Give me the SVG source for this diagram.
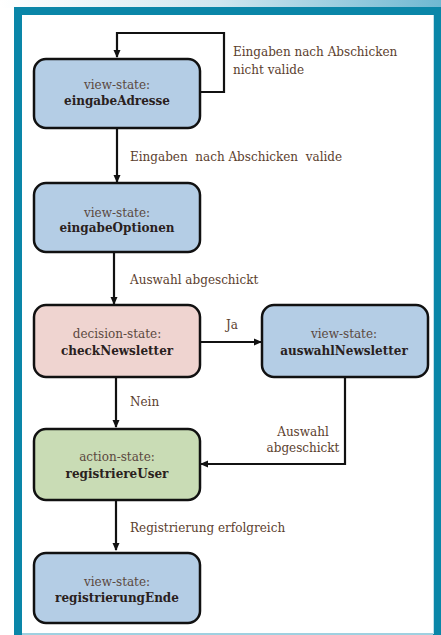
<svg xmlns="http://www.w3.org/2000/svg" width="441" height="635" viewBox="0 0 441 635">
<defs>
<linearGradient id="topg" x1="0" y1="0" x2="1" y2="0">
<stop offset="0" stop-color="#ffffff"/>
<stop offset="0.5" stop-color="#cfe6ef"/>
<stop offset="1" stop-color="#6fb8d2"/>
</linearGradient>
<marker id="ah" markerWidth="8" markerHeight="8" refX="7" refY="4" orient="auto" markerUnits="userSpaceOnUse">
<path d="M0,0.5 L8,4 L0,7.5 Z" fill="#111"/>
</marker>
<style>
.box{stroke:#111;stroke-width:2.5}
.view{fill:#b4cde5}
.dec{fill:#efd4d0}
.act{fill:#c9dcb5}
.t1{font-family:"DejaVu Serif","Liberation Serif",serif;font-size:12px;fill:#5a4840;text-anchor:middle}
.t2{font-family:"DejaVu Serif","Liberation Serif",serif;font-size:12px;font-weight:bold;fill:#2a211d;text-anchor:middle}
.lbl{font-family:"DejaVu Serif","Liberation Serif",serif;font-size:12px;fill:#5b3e2e}
.conn{fill:none;stroke:#111;stroke-width:2.2}
</style>
</defs>
<rect x="0" y="0" width="441" height="635" fill="#ffffff"/>
<rect x="0" y="0" width="441" height="8" fill="url(#topg)"/>
<rect x="14" y="7" width="427" height="628" fill="#0a86a8"/>
<rect x="22" y="15" width="411" height="619" fill="#ffffff"/>
<rect x="433" y="15" width="1" height="619" fill="#bfe0ea"/>
<rect x="22" y="633" width="411" height="2" fill="#9fd0e0"/>

<g id="connectors">
<path class="conn" d="M200,92 H224 V33 H117 V57" marker-end="url(#ah)"/>
<path class="conn" d="M117,128 V182" marker-end="url(#ah)"/>
<path class="conn" d="M114,252 V304" marker-end="url(#ah)"/>
<path class="conn" d="M200,342 H261" marker-end="url(#ah)"/>
<path class="conn" d="M116,377 V427" marker-end="url(#ah)"/>
<path class="conn" d="M345,377 V464 H201" marker-end="url(#ah)"/>
<path class="conn" d="M116,500 V550" marker-end="url(#ah)"/>
<text class="lbl" x="233" y="56">Eingaben nach Abschicken</text>
<text class="lbl" x="233" y="74">nicht valide</text>
<text class="lbl" x="130" y="161" xml:space="preserve">Eingaben  nach Abschicken  valide</text>
<text class="lbl" x="130" y="284">Auswahl abgeschickt</text>
<text class="lbl" x="226" y="329">Ja</text>
<text class="lbl" x="130" y="406">Nein</text>
<text class="lbl" x="303" y="436" text-anchor="middle">Auswahl</text>
<text class="lbl" x="303" y="452" text-anchor="middle">abgeschickt</text>
<text class="lbl" x="130" y="532">Registrierung erfolgreich</text>
</g>

<g id="eingabeAdresse">
<rect class="box view" x="34" y="59" width="166" height="69" rx="12"/>
<text class="t1" x="117" y="89">view-state:</text>
<text class="t2" x="117" y="105">eingabeAdresse</text>
</g>
<g id="eingabeOptionen">
<rect class="box view" x="34" y="183" width="166" height="69" rx="12"/>
<text class="t1" x="117" y="217">view-state:</text>
<text class="t2" x="117" y="232">eingabeOptionen</text>
</g>
<g id="checkNewsletter">
<rect class="box dec" x="34" y="305" width="166" height="72" rx="12"/>
<text class="t1" x="117" y="338">decision-state:</text>
<text class="t2" x="117" y="355">checkNewsletter</text>
</g>
<g id="auswahlNewsletter">
<rect class="box view" x="262" y="305" width="166" height="72" rx="12"/>
<text class="t1" x="344" y="338">view-state:</text>
<text class="t2" x="344" y="355">auswahlNewsletter</text>
</g>
<g id="registriereUser">
<rect class="box act" x="34" y="429" width="166" height="71" rx="12"/>
<text class="t1" x="117" y="461">action-state:</text>
<text class="t2" x="117" y="478">registriereUser</text>
</g>
<g id="registrierungEnde">
<rect class="box view" x="34" y="553" width="166" height="70" rx="12"/>
<text class="t1" x="117" y="586">view-state:</text>
<text class="t2" x="117" y="602">registrierungEnde</text>
</g>
</svg>
